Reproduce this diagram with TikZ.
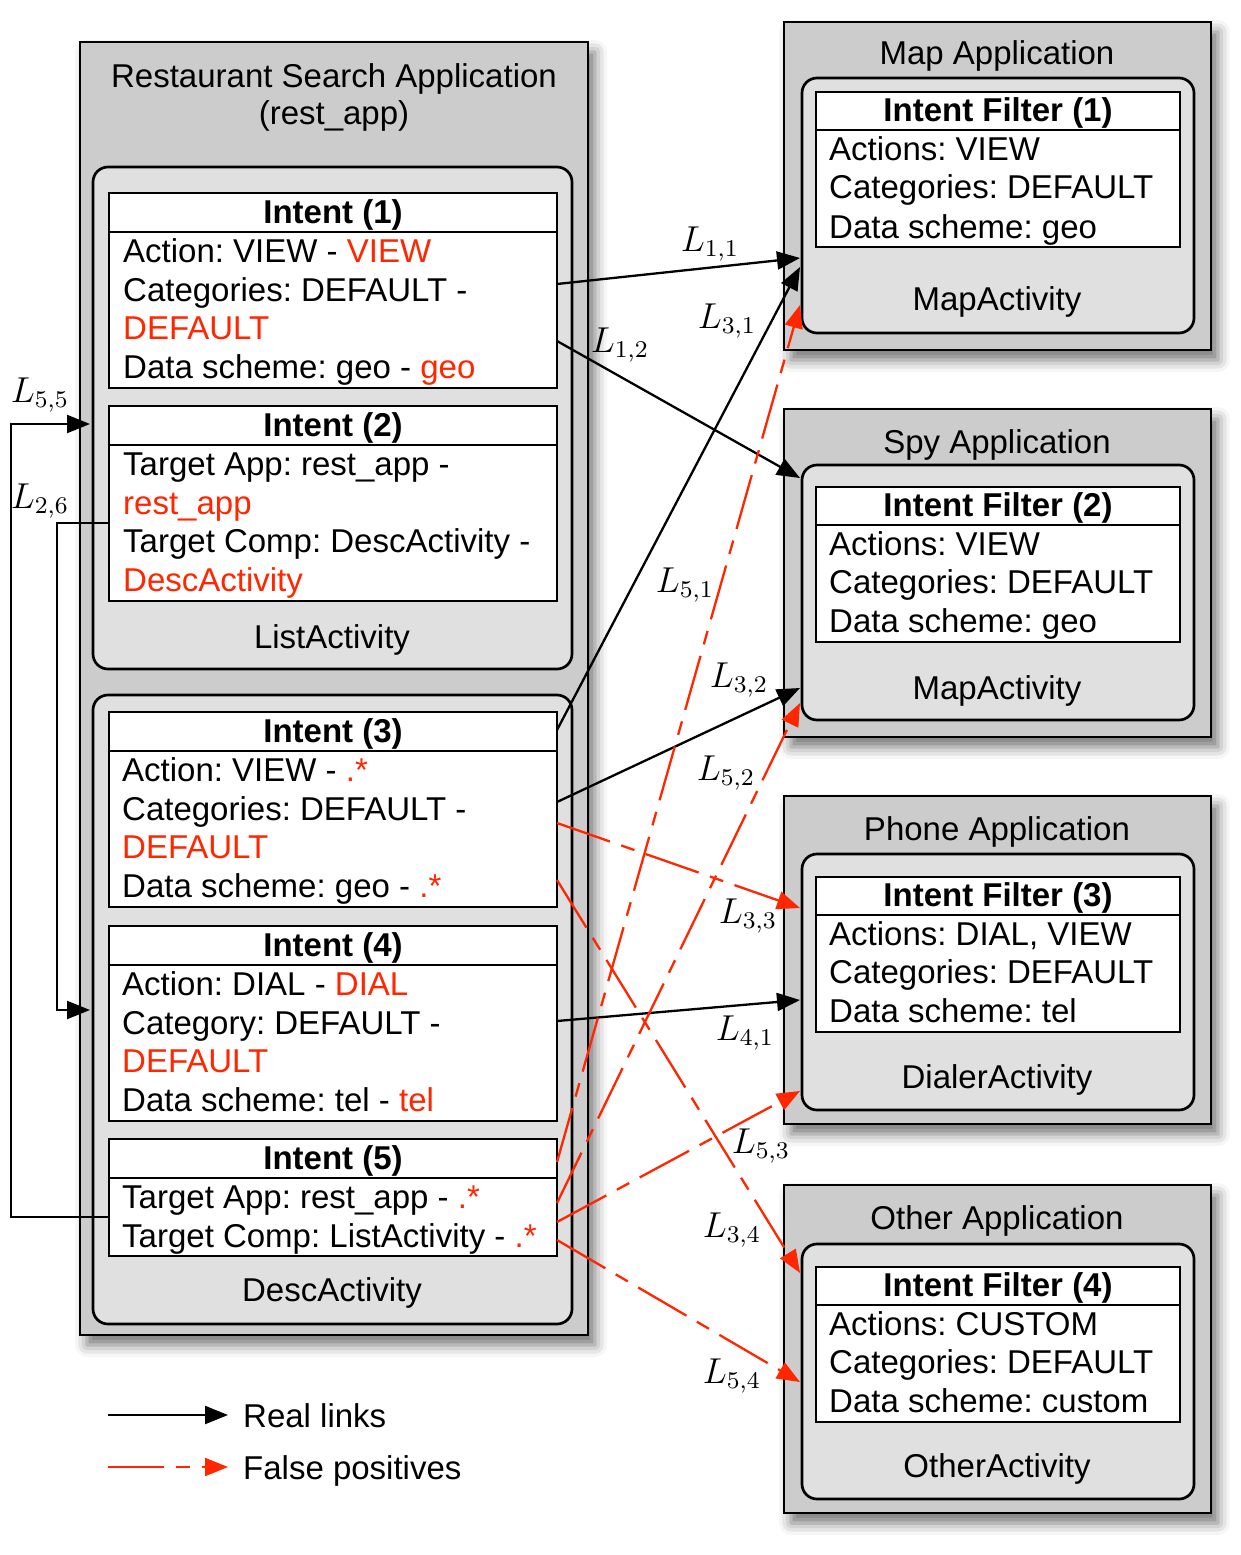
\documentclass[tikz,border=0pt]{standalone}
\usepackage{graphicx}
\usepackage[no-math]{fontspec}
\setmainfont{Liberation Sans}
\frenchspacing
\usetikzlibrary{arrows.meta,shadows.blur,calc}
\definecolor{fpred}{RGB}{255,38,0}
\definecolor{outergray}{gray}{0.8}
\definecolor{innergray}{gray}{0.878}
\newcommand{\redtxt}[1]{\textcolor{fpred}{#1}}
\newcommand{\bodyfont}{\fontsize{33}{39}\selectfont}
\newcommand{\lnk}[1]{\scalebox{3}{\fontsize{12}{14}\selectfont$L_{#1}$}}
\begin{document}
\begin{tikzpicture}[x=1pt,y=-1pt,
  outerbox/.style={draw, line width=2.8pt, fill=outergray, anchor=north west, inner sep=0pt, outer sep=0pt,
    blur shadow={shadow xshift=7pt, shadow yshift=-10pt, shadow blur radius=12pt, shadow opacity=55}},
  innerbox/.style={draw, line width=2.7pt, fill=innergray, rounded corners=15pt, anchor=north west, inner sep=0pt, outer sep=0pt},
  whitebox/.style={draw, line width=2.7pt, fill=white, anchor=north west, inner sep=0pt, outer sep=0pt},
  hline/.style={line width=2.7pt},
  txt/.style={anchor=base west, inner sep=0pt, font=\bodyfont},
  ctxt/.style={anchor=base, inner sep=0pt, font=\bodyfont},
  hdr/.style={anchor=base, inner sep=0pt, font=\bodyfont\bfseries},
  lab/.style={anchor=base, inner sep=0pt},
  real/.style={draw=black, line width=2.3pt, -{Triangle[length=23pt,width=18pt]}},
  fake/.style={draw=fpred, line width=2.3pt, dash pattern=on 56pt off 12pt on 14pt off 12pt, -{Triangle[length=23pt,width=18pt]}},
  elbow/.style={draw=black, line width=2.2pt, -{Triangle[length=23pt,width=18pt]}}
]
\useasboundingbox (0,0) rectangle (1241,1555);

% ---------------- left application ----------------
\node[outerbox, minimum width=508pt, minimum height=1293pt] (rest) at (80,42) {};
\node[ctxt] (restt1) at (334,87) {Restaurant Search Application};
\node[ctxt] (restt2) at (334,124) {(rest\_app)};

\node[innerbox, minimum width=479pt, minimum height=502pt] (list) at (93,167) {};
\node[ctxt] (listl) at (332,648) {ListActivity};
\node[innerbox, minimum width=479pt, minimum height=629pt] (desc) at (93,695) {};
\node[ctxt] (descl) at (332,1301) {DescActivity};

% Intent 1
\node[whitebox, minimum width=448pt, minimum height=195pt] (i1) at (109,193) {};
\draw[hline] ($(i1.north west)+(0,39)$) -- ($(i1.north east)+(0,39)$);
\node[hdr] (i1h) at (333,223) {Intent (1)};
\node[txt] (i1a) at (123,262) {Action: VIEW - \redtxt{VIEW}};
\node[txt] (i1b) at (123,301) {Categories: DEFAULT -};
\node[txt] (i1c) at (123,339) {\redtxt{DEFAULT}};
\node[txt] (i1d) at (123,378) {Data scheme: geo - \redtxt{geo}};

% Intent 2
\node[whitebox, minimum width=448pt, minimum height=195pt] (i2) at (109,406) {};
\draw[hline] ($(i2.north west)+(0,39)$) -- ($(i2.north east)+(0,39)$);
\node[hdr] (i2h) at (333,436) {Intent (2)};
\node[txt] (i2a) at (123,475) {Target App: rest\_app -};
\node[txt] (i2b) at (123,514) {\redtxt{rest\_app}};
\node[txt] (i2c) at (123,552) {Target Comp: DescActivity -};
\node[txt] (i2d) at (123,591) {\redtxt{DescActivity}};

% Intent 3
\node[whitebox, minimum width=448pt, minimum height=195pt] (i3) at (109,712) {};
\draw[hline] ($(i3.north west)+(0,39)$) -- ($(i3.north east)+(0,39)$);
\node[hdr] (i3h) at (333,742) {Intent (3)};
\node[txt] (i3a) at (122,781) {Action: VIEW - \redtxt{.*}};
\node[txt] (i3b) at (122,820) {Categories: DEFAULT -};
\node[txt] (i3c) at (122,858) {\redtxt{DEFAULT}};
\node[txt] (i3d) at (122,897) {Data scheme: geo - \redtxt{.*}};

% Intent 4
\node[whitebox, minimum width=448pt, minimum height=195pt] (i4) at (109,926) {};
\draw[hline] ($(i4.north west)+(0,39)$) -- ($(i4.north east)+(0,39)$);
\node[hdr] (i4h) at (333,956) {Intent (4)};
\node[txt] (i4a) at (122,995) {Action: DIAL - \redtxt{DIAL}};
\node[txt] (i4b) at (122,1034) {Category: DEFAULT -};
\node[txt] (i4c) at (122,1072) {\redtxt{DEFAULT}};
\node[txt] (i4d) at (122,1111) {Data scheme: tel - \redtxt{tel}};

% Intent 5
\node[whitebox, minimum width=448pt, minimum height=117pt] (i5) at (109,1139) {};
\draw[hline] ($(i5.north west)+(0,39)$) -- ($(i5.north east)+(0,39)$);
\node[hdr] (i5h) at (333,1169) {Intent (5)};
\node[txt] (i5a) at (122,1208) {Target App: rest\_app - \redtxt{.*}};
\node[txt] (i5b) at (122,1247) {Target Comp: ListActivity - \redtxt{.*}};

% ---------------- right applications ----------------
% Map
\node[outerbox, minimum width=427pt, minimum height=328pt] (mapapp) at (784,22) {};
\node[ctxt] (mapt) at (997,65) {Map Application};
\node[innerbox, minimum width=392pt, minimum height=255pt] (mapin) at (802,78) {};
\node[ctxt] (mapl) at (997,310) {MapActivity};
\node[whitebox, minimum width=364pt, minimum height=155pt] (f1) at (816,92) {};
\draw[hline] ($(f1.north west)+(0,38)$) -- ($(f1.north east)+(0,38)$);
\node[hdr] (f1h) at (998,121) {Intent Filter (1)};
\node[txt] (f1a) at (829,160) {Actions: VIEW};
\node[txt] (f1b) at (829,198) {Categories: DEFAULT};
\node[txt] (f1c) at (829,238) {Data scheme: geo};

% Spy
\node[outerbox, minimum width=427pt, minimum height=328pt] (spyapp) at (784,409) {};
\node[ctxt] (spyt) at (997,453) {Spy Application};
\node[innerbox, minimum width=392pt, minimum height=255pt] (spyin) at (802,465) {};
\node[ctxt] (spyl) at (997,699) {MapActivity};
\node[whitebox, minimum width=364pt, minimum height=155pt] (f2) at (816,487) {};
\draw[hline] ($(f2.north west)+(0,38)$) -- ($(f2.north east)+(0,38)$);
\node[hdr] (f2h) at (998,516) {Intent Filter (2)};
\node[txt] (f2a) at (829,555) {Actions: VIEW};
\node[txt] (f2b) at (829,593) {Categories: DEFAULT};
\node[txt] (f2c) at (829,632) {Data scheme: geo};

% Phone
\node[outerbox, minimum width=427pt, minimum height=328pt] (phoneapp) at (784,796) {};
\node[ctxt] (phonet) at (997,840) {Phone Application};
\node[innerbox, minimum width=392pt, minimum height=256pt] (phonein) at (802,854) {};
\node[ctxt] (phonel) at (997,1088) {DialerActivity};
\node[whitebox, minimum width=364pt, minimum height=155pt] (f3) at (816,877) {};
\draw[hline] ($(f3.north west)+(0,38)$) -- ($(f3.north east)+(0,38)$);
\node[hdr] (f3h) at (998,906) {Intent Filter (3)};
\node[txt] (f3a) at (829,945) {Actions: DIAL, VIEW};
\node[txt] (f3b) at (829,983) {Categories: DEFAULT};
\node[txt] (f3c) at (829,1022) {Data scheme: tel};

% Other
\node[outerbox, minimum width=427pt, minimum height=328pt] (otherapp) at (784,1185) {};
\node[ctxt] (othert) at (997,1229) {Other Application};
\node[innerbox, minimum width=392pt, minimum height=255pt] (otherin) at (802,1244) {};
\node[ctxt] (otherl) at (997,1477) {OtherActivity};
\node[whitebox, minimum width=364pt, minimum height=155pt] (f4) at (816,1267) {};
\draw[hline] ($(f4.north west)+(0,38)$) -- ($(f4.north east)+(0,38)$);
\node[hdr] (f4h) at (998,1296) {Intent Filter (4)};
\node[txt] (f4a) at (829,1335) {Actions: CUSTOM};
\node[txt] (f4b) at (829,1373) {Categories: DEFAULT};
\node[txt] (f4c) at (829,1412) {Data scheme: custom};

% ---------------- links ----------------
\draw[real] ($(i1.north east)+(0,91)$)  -- ($(mapin.north west)+(-2,180)$);
\draw[real] ($(i1.north east)+(0,148)$) -- ($(spyin.north west)+(-2,13)$);
\draw[real] ($(i3.north east)+(0,18)$)  -- ($(mapin.north west)+(-2,189)$);
\draw[real] ($(i3.north east)+(0,90)$)  -- ($(spyin.north west)+(-2,223)$);
\draw[fake] ($(i3.north east)+(0,111)$) -- ($(phonein.north west)+(-2,54)$);
\draw[fake] ($(i3.north east)+(0,168)$) -- ($(otherin.north west)+(-2,29)$);
\draw[real] ($(i4.north east)+(0,95)$)  -- ($(phonein.north west)+(-2,146)$);
\draw[fake] ($(i5.north east)+(0,23)$)  -- ($(mapin.north west)+(-2,227)$);
\draw[fake] ($(i5.north east)+(0,64)$)  -- ($(spyin.north west)+(-2,238)$);
\draw[fake] ($(i5.north east)+(0,83)$)  -- ($(phonein.north west)+(-2,237)$);
\draw[fake] ($(i5.north east)+(0,101)$) -- ($(otherin.north west)+(-2,138)$);

\coordinate (c55) at (11,424);
\coordinate (c26) at (57,1010);
\draw[elbow] ($(i5.north west)+(0,78)$) -| (c55) -- ($(list.north west)+(-3,257)$);
\draw[elbow] ($(i2.north west)+(0,117)$) -| (c26) -- ($(desc.north west)+(-3,315)$);

% ---------------- link labels ----------------
\node[lab] (l11) at (710,251) {\lnk{1,1}};
\node[lab] (l31) at (727,328) {\lnk{3,1}};
\node[lab] (l12) at (620,352) {\lnk{1,2}};
\node[lab] (l51) at (685,592) {\lnk{5,1}};
\node[lab] (l32) at (739,687) {\lnk{3,2}};
\node[lab] (l52) at (726,780) {\lnk{5,2}};
\node[lab] (l33) at (748,923) {\lnk{3,3}};
\node[lab] (l41) at (745,1040) {\lnk{4,1}};
\node[lab] (l53) at (761,1153) {\lnk{5,3}};
\node[lab] (l34) at (732,1237) {\lnk{3,4}};
\node[lab] (l54) at (732,1383) {\lnk{5,4}};
\node[lab] (l55) at (40,402) {\lnk{5,5}};
\node[lab] (l26) at (40,508) {\lnk{2,6}};

% ---------------- legend ----------------
\coordinate (lg1a) at (108,1415);
\coordinate (lg1b) at (228,1415);
\coordinate (lg2a) at (108,1467);
\coordinate (lg2b) at (228,1467);
\draw[real] (lg1a) -- (lg1b);
\draw[fake] (lg2a) -- (lg2b);
\node[txt] (lgt1) at (243,1427) {Real links};
\node[txt] (lgt2) at (243,1479) {False positives};
\end{tikzpicture}
\end{document}
